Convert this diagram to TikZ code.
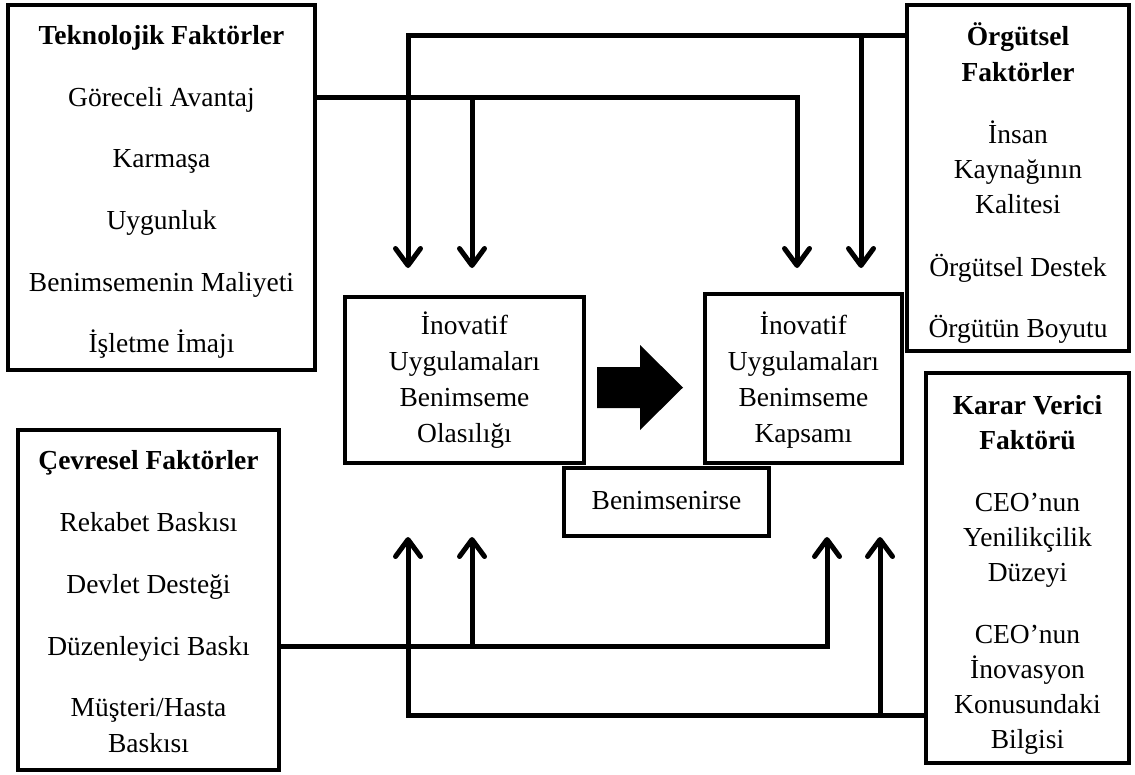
\documentclass[tikz,border=0pt]{standalone}
\usepackage{fontspec}
\setmainfont{Liberation Serif}
\usetikzlibrary{arrows.meta}
\begin{document}
\begin{tikzpicture}[x=1pt,y=-1pt,
  box/.style={draw, rectangle, line width=4.5pt, inner sep=0pt},
  lbl/.style={anchor=base, inner sep=0pt, font=\fontsize{27.5}{33}\selectfont},
  ttl/.style={anchor=base, inner sep=0pt, font=\fontsize{27.5}{33}\selectfont\bfseries},
  link/.style={line width=5pt},
  arr/.style={link, -{Straight Barb[length=17pt,width=25pt,line cap=round,line join=round]}}]
\useasboundingbox (0,0) rectangle (1135,774);

% factor boxes
\node[box, minimum width=307pt, minimum height=365pt] (tech)  at (161.5,187.5) {};
\node[box, minimum width=261pt, minimum height=340pt] (cevre) at (148.5,600)   {};
\node[box, minimum width=222pt, minimum height=346pt] (orgut) at (1018,178)    {};
\node[box, minimum width=203pt, minimum height=390pt] (karar) at (1027.5,568)  {};

% outcome boxes
\node[box, minimum width=239pt, minimum height=166pt] (olas)  at (464.5,380)   {};
\node[box, minimum width=197pt, minimum height=169pt] (kaps)  at (803.5,378.5) {};
\node[box, minimum width=205pt, minimum height=68pt]  (benim) at (666.5,502)   {};

% technological factors
\node[ttl] (t0) at (161.5,44)  {Teknolojik Faktörler};
\node[lbl] (t1) at (161.5,106) {Göreceli Avantaj};
\node[lbl] (t2) at (161.5,167) {Karmaşa};
\node[lbl] (t3) at (161.5,229) {Uygunluk};
\node[lbl] (t4) at (161.5,291) {Benimsemenin Maliyeti};
\node[lbl] (t5) at (161.5,352) {İşletme İmajı};

% environmental factors
\node[ttl] (c0) at (148.5,469) {Çevresel Faktörler};
\node[lbl] (c1) at (148.5,531) {Rekabet Baskısı};
\node[lbl] (c2) at (148.5,593) {Devlet Desteği};
\node[lbl] (c3) at (148.5,655) {Düzenleyici Baskı};
\node[lbl] (c4) at (148.5,716) {Müşteri/Hasta};
\node[lbl] (c5) at (148.5,752) {Baskısı};

% organisational factors
\node[ttl] (o0) at (1018,45)  {Örgütsel};
\node[ttl] (o1) at (1018,81)  {Faktörler};
\node[lbl] (o2) at (1018,143) {İnsan};
\node[lbl] (o3) at (1018,178) {Kaynağının};
\node[lbl] (o4) at (1018,213) {Kalitesi};
\node[lbl] (o5) at (1018,276) {Örgütsel Destek};
\node[lbl] (o6) at (1018,337) {Örgütün Boyutu};

% decision maker factor
\node[ttl] (k0) at (1027.5,414) {Karar Verici};
\node[ttl] (k1) at (1027.5,449) {Faktörü};
\node[lbl] (k2) at (1027.5,511) {CEO’nun};
\node[lbl] (k3) at (1027.5,546) {Yenilikçilik};
\node[lbl] (k4) at (1027.5,581) {Düzeyi};
\node[lbl] (k5) at (1027.5,643) {CEO’nun};
\node[lbl] (k6) at (1027.5,678) {İnovasyon};
\node[lbl] (k7) at (1027.5,713) {Konusundaki};
\node[lbl] (k8) at (1027.5,748) {Bilgisi};

% outcomes
\node[lbl] (p0) at (464.5,334) {İnovatif};
\node[lbl] (p1) at (464.5,370) {Uygulamaları};
\node[lbl] (p2) at (464.5,406) {Benimseme};
\node[lbl] (p3) at (464.5,442) {Olasılığı};
\node[lbl] (q0) at (803.5,334) {İnovatif};
\node[lbl] (q1) at (803.5,370) {Uygulamaları};
\node[lbl] (q2) at (803.5,406) {Benimseme};
\node[lbl] (q3) at (803.5,442) {Kapsamı};
\node[lbl] (b0) at (666.5,509) {Benimsenirse};

% block arrow between the outcomes
\fill (597,367) -- (640,367) -- (640,345) -- (683,387.5) -- (640,430)
      -- (640,408) -- (597,408) -- cycle;

% junctions and arrow ends
\coordinate (jo) at (408,35);
\coordinate (jt) at (797,97);
\coordinate (jc) at (827,646);
\coordinate (jk) at (408,715);
\coordinate (e1) at (408,268);
\coordinate (e2) at (472,268);
\coordinate (e3) at (797,268);
\coordinate (e4) at (861,268);
\coordinate (u1) at (408,537);
\coordinate (u2) at (472,537);
\coordinate (u3) at (827,537);
\coordinate (u4) at (880,537);

% organisational factors feed both outcomes
\draw[arr] (jo -| orgut.west) -- (jo) -- (e1);
\draw[arr] (e4 |- jo) -- (e4);
% technological factors feed both outcomes
\draw[arr] (jt -| tech.east) -- (jt) -- (e3);
\draw[arr] (e2 |- jt) -- (e2);
% environmental factors feed both outcomes
\draw[arr] (jc -| cevre.east) -- (jc) -- (u3);
\draw[arr] (u2 |- jc) -- (u2);
% decision maker factor feeds both outcomes
\draw[arr] (jk -| karar.west) -- (jk) -- (u1);
\draw[arr] (u4 |- jk) -- (u4);
\end{tikzpicture}
\end{document}
